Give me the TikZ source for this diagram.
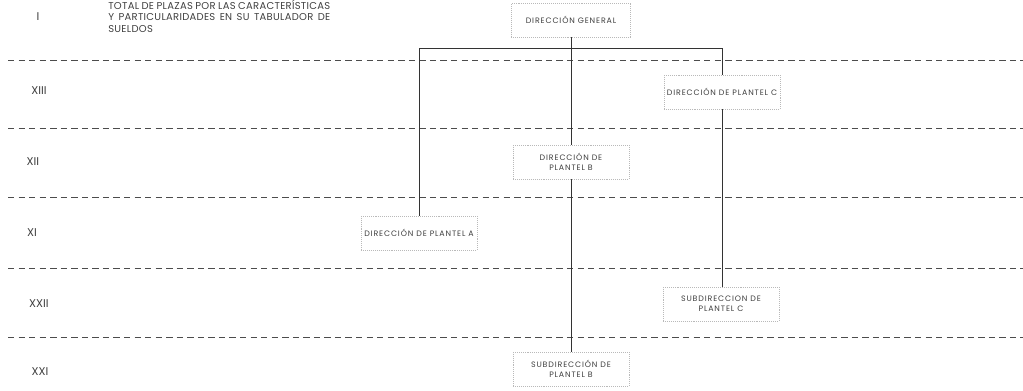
\documentclass[tikz,border=0pt]{standalone}
\usepackage{fontspec}
\setmainfont{Poppins}
\newfontfamily\anchafont[LetterSpace=11]{Poppins}
\newfontfamily\titulofont[LetterSpace=3]{Poppins}

\tikzset{
  puesto/.style={draw=gray!55, densely dotted, line width=0.4pt, fill=white,
    minimum width=2.9cm, minimum height=0.85cm, inner sep=1pt, align=center,
    font=\anchafont\fontsize{5.6}{7}\selectfont\color{black!75}},
  nivel/.style={font=\fontsize{8}{8}\selectfont\color{black!75}},
  separador/.style={black!70, line width=0.6pt, dash pattern=on 4.5pt off 3pt},
  linea/.style={black!80, line width=0.7pt}
}

\begin{document}
\begin{tikzpicture}[x=0.025cm, y=0.025cm]
      \useasboundingbox (0, 0) rectangle (1023, -390);

      % niveles
      \node[nivel] (n1) at (38, -17) {I};
      \node[nivel] (n2) at (39, -91) {XIII};
      \node[nivel] (n3) at (33, -162) {XII};
      \node[nivel] (n4) at (32, -233) {XI};
      \node[nivel] (n5) at (39, -304) {XXII};
      \node[nivel] (n6) at (40, -372) {XXI};

      \node[anchor=north west, inner sep=0, text width=5.55cm, align=justify,
        font=\titulofont\fontsize{7.1}{8}\selectfont\color{black!75}] (titulo) at (108, 0)
        {TOTAL DE PLAZAS POR LAS CARACTERÍSTICAS\linebreak
         Y PARTICULARIDADES EN SU TABULADOR DE\linebreak SUELDOS};

      % separadores
      \draw[separador] (8, -60) -- (1023, -60);
      \draw[separador] (8, -128) -- (1023, -128);
      \draw[separador] (8, -197) -- (1023, -197);
      \draw[separador] (8, -268) -- (1023, -268);
      \draw[separador] (8, -337) -- (1023, -337);

      % puestos
      \node[puesto, minimum width=2.98cm] (dg) at (571, -20) {DIRECCIÓN GENERAL};
      \node[puesto] (pc) at (722, -92) {DIRECCIÓN DE PLANTEL C};
      \node[puesto] (pb) at (571, -162) {DIRECCIÓN DE\\PLANTEL B};
      \node[puesto] (pa) at (419, -233) {DIRECCIÓN DE PLANTEL A};
      \node[puesto] (spc) at (721, -304) {SUBDIRECCION DE\\PLANTEL C};
      \node[puesto] (spb) at (571, -369) {SUBDIRECCIÓN DE\\PLANTEL B};

      % conectores
      \coordinate (busA) at (419, -48);
      \coordinate (busC) at (722, -48);
      \draw[linea] (busA) -- (busC);
      \draw[linea] (dg.south) -- (pb.north);
      \draw[linea] (busA) -- (pa.north);
      \draw[linea] (busC) -- (pc.north);
      \draw[linea] (pb.south) -- (spb.north);
      \draw[linea] (pc.south) -- (pc.south |- spc.north);

    \end{tikzpicture}
\end{document}
